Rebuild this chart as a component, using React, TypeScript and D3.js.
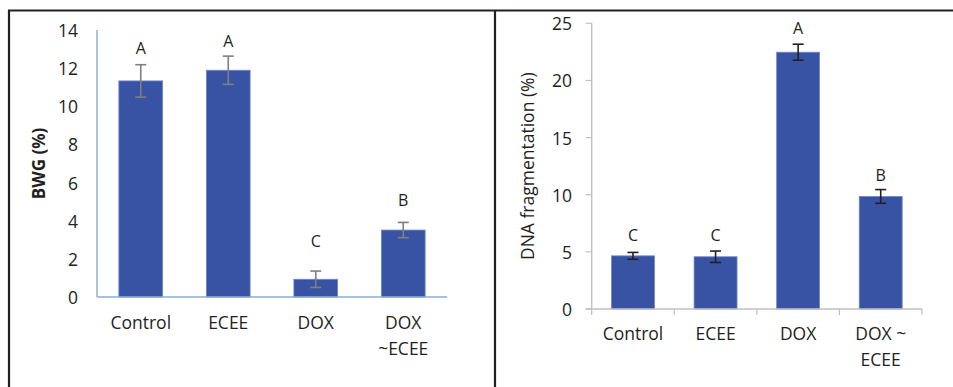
import React from 'react';
import { scaleBand, scaleLinear } from 'd3';

// left panel: body weight gain
const bwgCats = ['Control', 'ECEE', 'DOX', 'DOX\n~ECEE'];
const bwgValues = [11.33, 11.89, 0.93, 3.51];
const bwgErrors = [0.85, 0.74, 0.43, 0.4];
const bwgLetters = ['A', 'A', 'C', 'B'];
const bwgLetterAt = [13.06, 13.42, 2.95, 5.09];
const bwgTicks = [0, 2, 4, 6, 8, 10, 12, 14];

// right panel: DNA fragmentation
const dnaCats = ['Control', 'ECEE', 'DOX', 'DOX ~\nECEE'];
const dnaValues = [4.65, 4.57, 22.47, 9.85];
const dnaErrors = [0.3, 0.5, 0.7, 0.6];
const dnaLetters = ['C', 'C', 'A', 'B'];
const dnaLetterAt = [6.47, 6.47, 24.56, 11.72];
const dnaTicks = [0, 5, 10, 15, 20, 25];

const FONT = '"Open Sans", sans-serif';
const BAR = '#3953a4';
const TEXT = '#231f20';

type PanelProps = {
    cats: string[];
    values: number[];
    errors: number[];
    letters: string[];
    letterAt: number[];
    ticks: number[];
    x0: number;
    x1: number;
    yTop: number;
    yBottom: number;
    pad: number;
    axisColor: string;
    errColor: string;
    withTicks: boolean;
    title: string;
    titleBold: boolean;
    titleSize: number;
    titleX: number;
    tickRight: number;
    labelY: number;
};

function Panel(p: PanelProps) {
    const x = scaleBand<string>()
        .domain(p.cats)
        .range([p.x0, p.x1])
        .paddingInner(p.pad)
        .paddingOuter(p.pad / 2);
    const y = scaleLinear()
        .domain([0, p.ticks[p.ticks.length - 1]])
        .range([p.yBottom, p.yTop]);
    const bw = x.bandwidth();
    const step = x.step();
    const cap = 5.5;

    return (
        <g fontFamily={FONT} fill={TEXT}>
            {/* y tick labels */}
            {p.ticks.map((t) => (
                <text
                    key={`t-${t}`}
                    x={p.tickRight}
                    y={y(t)}
                    textAnchor="end"
                    dominantBaseline="central"
                    fontSize={17.5}
                >
                    {t}
                </text>
            ))}
            {p.withTicks &&
                p.ticks.map((t) => (
                    <line key={`tm-${t}`} x1={p.x0 - 6} x2={p.x0} y1={y(t)} y2={y(t)} stroke={p.axisColor} strokeWidth={1.2} />
                ))}
            {p.withTicks &&
                p.cats.map((c, i) => (
                    <line
                        key={`xm-${c}`}
                        x1={p.x0 + i * step}
                        x2={p.x0 + i * step}
                        y1={p.yBottom}
                        y2={p.yBottom + 6}
                        stroke={p.axisColor}
                        strokeWidth={1.2}
                    />
                ))}
            {p.withTicks && (
                <line x1={p.x1} x2={p.x1} y1={p.yBottom} y2={p.yBottom + 6} stroke={p.axisColor} strokeWidth={1.2} />
            )}

            {/* bars */}
            {p.cats.map((c, i) => (
                <rect
                    key={`b-${c}`}
                    x={x(c)}
                    y={y(p.values[i])}
                    width={bw}
                    height={y(0) - y(p.values[i])}
                    fill={BAR}
                    stroke="#6f86c6"
                    strokeWidth={0.8}
                />
            ))}

            {/* axes */}
            <line x1={p.x0} x2={p.x0} y1={p.yTop} y2={p.yBottom} stroke={p.axisColor} strokeWidth={1.4} />
            <line
                x1={p.withTicks ? p.x0 - 6 : p.x0}
                x2={p.x1}
                y1={p.yBottom}
                y2={p.yBottom}
                stroke={p.axisColor}
                strokeWidth={1.6}
            />

            {/* error bars */}
            {p.cats.map((c, i) => {
                const cx = (x(c) ?? 0) + bw / 2;
                const hi = y(p.values[i] + p.errors[i]);
                const lo = y(p.values[i] - p.errors[i]);
                return (
                    <g key={`e-${c}`} stroke={p.errColor} strokeWidth={1.6}>
                        <line x1={cx} x2={cx} y1={hi} y2={lo} />
                        <line x1={cx - cap} x2={cx + cap} y1={hi} y2={hi} />
                        <line x1={cx - cap} x2={cx + cap} y1={lo} y2={lo} />
                    </g>
                );
            })}

            {/* significance letters */}
            {p.cats.map((c, i) => (
                <text
                    key={`l-${c}`}
                    x={(x(c) ?? 0) + bw / 2}
                    y={y(p.letterAt[i])}
                    textAnchor="middle"
                    dominantBaseline="central"
                    fontSize={16}
                >
                    {p.letters[i]}
                </text>
            ))}

            {/* category labels */}
            {p.cats.map((c) => (
                <text key={`c-${c}`} x={(x(c) ?? 0) + bw / 2} y={p.labelY} textAnchor="middle" fontSize={17.5}>
                    {c.split('\n').map((line, j) => (
                        <tspan key={j} x={(x(c) ?? 0) + bw / 2} dy={j === 0 ? 0 : 25.5}>
                            {line}
                        </tspan>
                    ))}
                </text>
            ))}

            {/* y title */}
            <text
                transform={`translate(${p.titleX},${(p.yTop + p.yBottom) / 2}) rotate(-90)`}
                textAnchor="middle"
                dominantBaseline="central"
                fontSize={p.titleSize}
                fontWeight={p.titleBold ? 700 : 400}
            >
                {p.title}
            </text>
        </g>
    );
}

export default function App() {
    return (
        <svg
            width={953}
            height={387}
            viewBox="0 0 953 387"
            style={{ position: 'absolute', left: 0, top: 0, background: '#fff' }}
        >
            <rect width={953} height={387} fill="#fff" />
            {/* frame */}
            <line x1={8} x2={953} y1={10.5} y2={10.5} stroke={TEXT} strokeWidth={2.2} />
            <line x1={9} x2={9} y1={10} y2={387} stroke={TEXT} strokeWidth={2.2} />
            <line x1={495} x2={495} y1={10} y2={387} stroke={TEXT} strokeWidth={2.2} />

            <Panel
                cats={bwgCats}
                values={bwgValues}
                errors={bwgErrors}
                letters={bwgLetters}
                letterAt={bwgLetterAt}
                ticks={bwgTicks}
                x0={97}
                x1={447}
                yTop={30}
                yBottom={297}
                pad={0.5}
                axisColor="#8eaadb"
                errColor="#7f7f7f"
                withTicks={false}
                title="BWG (%)"
                titleBold={true}
                titleSize={17}
                titleX={38}
                tickRight={78}
                labelY={329}
            />
            <Panel
                cats={dnaCats}
                values={dnaValues}
                errors={dnaErrors}
                letters={dnaLetters}
                letterAt={dnaLetterAt}
                ticks={dnaTicks}
                x0={591.7}
                x1={922}
                yTop={23.3}
                yBottom={309}
                pad={0.48}
                axisColor="#bfbfbf"
                errColor="#231f20"
                withTicks={true}
                title="DNA fragmentation (%)"
                titleBold={false}
                titleSize={17.5}
                titleX={527}
                tickRight={572}
                labelY={340}
            />
        </svg>
    );
}
